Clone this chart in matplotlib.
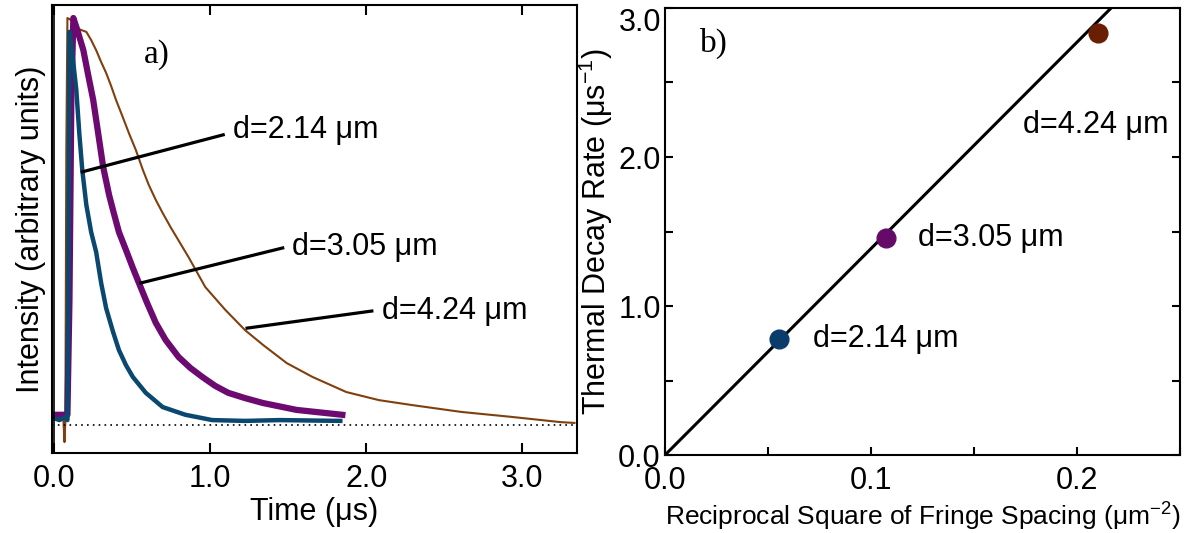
import numpy as np
import matplotlib.pyplot as plt
from matplotlib.ticker import MultipleLocator

plt.rcParams['font.family'] = ['Liberation Sans', 'DejaVu Sans']
plt.rcParams['mathtext.fontset'] = 'custom'
plt.rcParams['mathtext.rm'] = 'Liberation Sans'

# panel a) - decay traces (time in us, intensity normalised to peak)
t_214 = [-0.003, 0.035, 0.073, 0.086, 0.092, 0.099, 0.111, 0.143, 0.162, 0.181,
         0.207, 0.238, 0.270, 0.302, 0.334, 0.378, 0.416, 0.461, 0.505, 0.588,
         0.696, 0.842, 1.014, 1.224, 1.446, 1.834]
i_214 = [0.017, 0.012, 0.020, 0.012, 0.307, 0.966, 0.934, 0.823, 0.717, 0.627,
         0.541, 0.474, 0.425, 0.349, 0.287, 0.229, 0.184, 0.147, 0.118, 0.079,
         0.044, 0.025, 0.012, 0.010, 0.012, 0.010]

t_305 = [-0.003, 0.086, 0.099, 0.111, 0.124, 0.149, 0.188, 0.219, 0.251, 0.283,
         0.315, 0.353, 0.378, 0.416, 0.461, 0.505, 0.544, 0.594, 0.652, 0.715,
         0.798, 0.874, 0.950, 1.033, 1.116, 1.224, 1.338, 1.554, 1.847]
i_305 = [0.025, 0.025, 0.307, 0.799, 1.0, 0.971, 0.921, 0.860, 0.799, 0.717,
         0.634, 0.565, 0.528, 0.474, 0.430, 0.386, 0.349, 0.302, 0.251, 0.209,
         0.167, 0.140, 0.118, 0.096, 0.079, 0.066, 0.054, 0.037, 0.025]

t_424 = [-0.003, 0.060, 0.067, 0.073, 0.079, 0.086, 0.111, 0.143, 0.207, 0.238,
         0.270, 0.302, 0.334, 0.366, 0.397, 0.435, 0.480, 0.524, 0.569, 0.607,
         0.652, 0.696, 0.747, 0.861, 0.969, 1.097, 1.224, 1.338, 1.491, 1.656,
         1.872, 2.082, 2.292, 2.610, 2.927, 3.245, 3.334]
i_424 = [0.015, 0.015, -0.042, 0.012, 0.676, 1.0, 0.995, 0.975, 0.966, 0.946,
         0.921, 0.892, 0.865, 0.833, 0.799, 0.762, 0.717, 0.676, 0.627, 0.590,
         0.553, 0.521, 0.486, 0.413, 0.339, 0.283, 0.233, 0.197, 0.152, 0.118,
         0.081, 0.061, 0.049, 0.032, 0.020, 0.007, 0.005]

# panel b) - decay rate vs 1/d^2
labels = ['d=2.14 \u03bcm', 'd=3.05 \u03bcm', 'd=4.24 \u03bcm']
recip_sq = [0.0554, 0.1072, 0.2103]
rate = [0.777, 1.455, 2.83]
fit_x = [0.0, 0.2165]
fit_y = [0.0, 3.0]

c_blue = '#0a4870'
c_purple = '#6c0a72'
c_brown = '#80400e'
dot_cols = ['#0a3c6c', '#660a6a', '#6a1f05']

fig = plt.figure(figsize=(12.03, 5.33), dpi=100)

# ---- left panel
ax1 = fig.add_axes([0.0432, 0.150, 0.4364, 0.8406])
ax1.plot(t_424, i_424, color=c_brown, lw=1.5)
ax1.plot(t_305, i_305, color=c_purple, lw=4.5)
ax1.plot(t_214, i_214, color=c_blue, lw=3.2)
ax1.axhline(0, color='black', lw=1.2, ls=(0, (1, 2.5)))
ax1.axvline(0, color='black', lw=1.2)
ax1.set_xlim(-0.013, 3.35)
ax1.set_ylim(-0.069, 1.032)
ax1.set_xticks([0, 1, 2, 3])
ax1.set_xticklabels(['0.0', '1.0', '2.0', '3.0'])
ax1.set_yticks([])
ax1.tick_params(axis='x', direction='in', top=True, length=7, width=1.5,
                labelsize=22, pad=8)
ax1.set_xlabel('Time (\u03bcs)', fontsize=22, labelpad=2)
ax1.set_ylabel('Intensity (arbitrary units)', fontsize=22, labelpad=4)
for s in ax1.spines.values():
    s.set_linewidth(1.5)

# annotations
ann_a = [((0.181, 0.622), (1.084, 0.713), (1.147, 0.725)),
         ((0.556, 0.349), (1.465, 0.435), (1.523, 0.437)),
         ((1.237, 0.238), (2.036, 0.280), (2.101, 0.280))]
for lab, (p0, p1, pt) in zip(labels, ann_a):
    ax1.plot([p0[0], p1[0]], [p0[1], p1[1]], color='black', lw=2.3)
    ax1.text(pt[0], pt[1], lab, fontsize=22, va='center', ha='left')
ax1.text(0.575, 0.909, 'a)', fontsize=24, family='Liberation Serif',
         va='center', ha='left')

# ---- right panel
ax2 = fig.add_axes([0.5528, 0.1463, 0.4282, 0.8387])
ax2.plot(fit_x, fit_y, color='black', lw=2.2, clip_on=True)
for x, y, c in zip(recip_sq, rate, dot_cols):
    ax2.plot(x, y, 'o', color=c, ms=13.5, zorder=3)
txt_b = [(0.0719, 0.777), (0.123, 1.455), (0.1737, 2.216)]
for lab, (x, y) in zip(labels, txt_b):
    ax2.text(x, y, lab, fontsize=22, va='center', ha='left')
ax2.text(0.0169, 2.76, 'b)', fontsize=24, family='Liberation Serif',
         va='center', ha='left')
ax2.set_xlim(0, 0.25)
ax2.set_ylim(0, 3.0)
ax2.set_xticks([0, 0.1, 0.2])
ax2.set_xticklabels(['0.0', '0.1', '0.2'])
ax2.set_yticks([0, 1, 2, 3])
ax2.set_yticklabels(['0.0', '1.0', '2.0', '3.0'])
ax2.xaxis.set_minor_locator(MultipleLocator(0.05))
ax2.yaxis.set_minor_locator(MultipleLocator(0.5))
ax2.tick_params(which='both', direction='in', right=True, length=6, width=1.5,
                labelsize=22)
ax2.tick_params(axis='x', pad=8)
ax2.tick_params(axis='y', pad=3)
ax2.get_yticklabels()[-1].set_va('top')
ax2.set_xlabel('Reciprocal Square of Fringe Spacing (\u03bcm$^{\\mathregular{-2}}$)',
               fontsize=19, labelpad=2)
ax2.set_ylabel('Thermal Decay Rate (\u03bcs$^{\\mathregular{-1}}$)', fontsize=22,
               labelpad=2)
for s in ax2.spines.values():
    s.set_linewidth(1.5)

fig.savefig('out.png', dpi=100)
